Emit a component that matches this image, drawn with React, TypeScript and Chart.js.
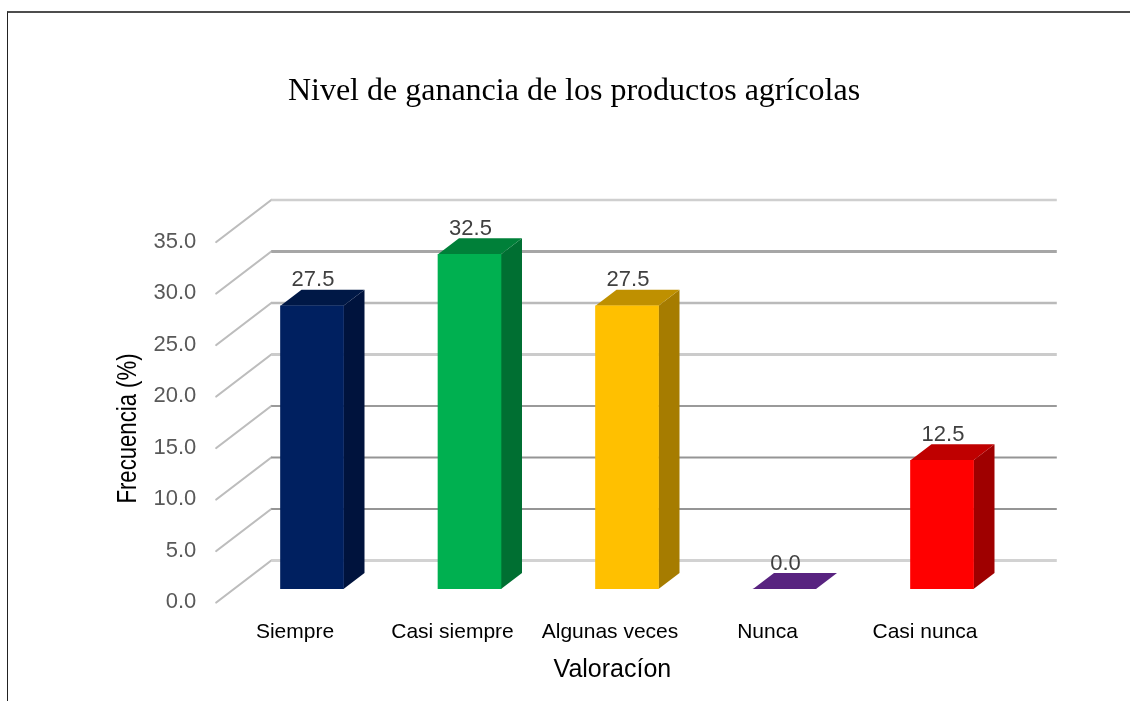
import React, { useEffect, useRef } from "react";
import { Chart, registerables } from "chart.js";

Chart.register(...registerables);

const chartTitle = "Nivel de ganancia de los productos agrícolas";
const xAxisTitle = "Valoracíon";
const yAxisTitle = "Frecuencia (%)";
const categories = ["Siempre", "Casi siempre", "Algunas veces", "Nunca", "Casi nunca"];
const values = [27.5, 32.5, 27.5, 0.0, 12.5];
const frontColors = ["#002060", "#00b050", "#ffc000", "#582380", "#ff0000"];
const topColors = ["#001846", "#008039", "#bf9000", "#582380", "#bf0000"];
const sideColors = ["#00133d", "#006f32", "#a67c00", "#3b1856", "#9f0000"];
const gridColors = ["#d2d2d2", "#959595", "#959595", "#9a9a9a", "#cbcbcb", "#bababa", "#a6a6a6", "#cfcfcf"];
const gridWidths = [3, 2, 2, 2, 3, 2.4, 3, 2.6];

const WALL_DX = 55, WALL_DY = 42, FLOOR_SHIFT = 28.5, DEPTH_DX = 21, DEPTH_DY = 16;

const scene = {
  id: "scene3d",
  beforeDatasetsDraw(chart: any) {
    const { ctx, scales } = chart;
    const y = scales.y;
    ctx.save();
    ctx.lineCap = "round";
    y.ticks.forEach((t: any, i: number) => {
      const py = y.getPixelForValue(t.value) - FLOOR_SHIFT;
      const bx = y.right + 38;
      ctx.strokeStyle = "#bdbdbd";
      ctx.lineWidth = 2.2;
      ctx.beginPath();
      ctx.moveTo(bx, py);
      ctx.lineTo(bx - WALL_DX, py + WALL_DY);
      ctx.stroke();
      ctx.lineCap = "butt";
      ctx.strokeStyle = gridColors[i];
      ctx.lineWidth = gridWidths[i];
      ctx.beginPath();
      ctx.moveTo(bx, py);
      ctx.lineTo(1056.8, py);
      ctx.stroke();
      ctx.lineCap = "round";
    });
    ctx.restore();
    const els = chart.getDatasetMeta(0).data;
    ctx.save();
    els.forEach((el: any, i: number) => {
      const r = el.x + el.width / 2, l = el.x - el.width / 2;
      const top = el.y, base = el.base;
      if (base - top > 0.5) {
        ctx.fillStyle = sideColors[i];
        ctx.beginPath();
        ctx.moveTo(r, top);
        ctx.lineTo(r + DEPTH_DX, top - DEPTH_DY);
        ctx.lineTo(r + DEPTH_DX, base - DEPTH_DY);
        ctx.lineTo(r, base);
        ctx.closePath();
        ctx.fill();
      }
      ctx.fillStyle = topColors[i];
      ctx.beginPath();
      ctx.moveTo(l, top);
      ctx.lineTo(r, top);
      ctx.lineTo(r + DEPTH_DX, top - DEPTH_DY);
      ctx.lineTo(l + DEPTH_DX, top - DEPTH_DY);
      ctx.closePath();
      ctx.fill();
    });
    ctx.restore();
  },
  afterDatasetsDraw(chart: any) {
    const { ctx } = chart;
    const els = chart.getDatasetMeta(0).data;
    ctx.save();
    ctx.textAlign = "center";
    ctx.textBaseline = "middle";
    ctx.font = '22px "Liberation Sans"';
    ctx.fillStyle = "#404040";
    els.forEach((el: any, i: number) => {
      ctx.fillText(values[i].toFixed(1), el.x + 1, el.y - 25.5);
    });
    ctx.fillStyle = "#000000";
    ctx.font = '25px "Liberation Sans"';
    ctx.fillText(xAxisTitle, 612.4, 670);
    ctx.translate(129, 428.5);
    ctx.rotate(-Math.PI / 2);
    ctx.scale(0.82, 1);
    ctx.font = '27px "Liberation Sans"';
    ctx.fillText(yAxisTitle, 0, 0);
    ctx.restore();
  },
};

export default function App() {
  const ref = useRef<HTMLCanvasElement>(null);
  useEffect(() => {
    const chart = new Chart(ref.current!, {
      type: "bar",
      data: {
        labels: categories,
        datasets: [
          {
            data: values,
            backgroundColor: frontColors,
            borderWidth: 0,
            barThickness: 63,
          },
        ],
      },
      options: {
        responsive: false,
        animation: false,
        devicePixelRatio: 1,
        layout: { padding: { left: 127.25, right: 109.25, top: 0, bottom: 0 } },
        plugins: {
          legend: { display: false },
          tooltip: { enabled: false },
          title: {
            display: true,
            text: chartTitle,
            color: "#000000",
            font: { family: '"Liberation Serif"', size: 32, weight: "normal", lineHeight: 1.2 },
            padding: { top: 72.8, bottom: 117.3 },
          },
        },
        scales: {
          x: {
            grid: { display: false },
            border: { display: false },
            ticks: {
              color: "#000000",
              font: { family: '"Liberation Sans"', size: 21 },
              padding: 23,
              labelOffset: -17,
              maxRotation: 0,
              autoSkip: false,
            },
            afterFit: (s: any) => {
              s.height = 112;
            },
          },
          y: {
            min: 0,
            max: 35,
            grid: { display: false },
            border: { display: false },
            ticks: {
              stepSize: 5,
              color: "#595959",
              font: { family: '"Liberation Sans"', size: 22 },
              padding: 29,
              labelOffset: 13,
              callback: (v: any) => Number(v).toFixed(1),
            },
            afterFit: (s: any) => {
              s.width = 106;
            },
          },
        },
      },
      plugins: [scene],
    } as any);
    return () => chart.destroy();
  }, []);
  return (
    <div style={{ position: "absolute", left: 0, top: 0, width: 1130, height: 701, overflow: "hidden", background: "#fff" }}>
      <canvas ref={ref} width={1130} height={701} style={{ display: "block", position: "absolute", left: 0, top: 0 }} />
      <div style={{ position: "absolute", left: 7, top: 11, width: 1200, height: 800, borderTop: "2px solid #4d4d4d", borderLeft: "1.5px solid #222" }} />
    </div>
  );
}
